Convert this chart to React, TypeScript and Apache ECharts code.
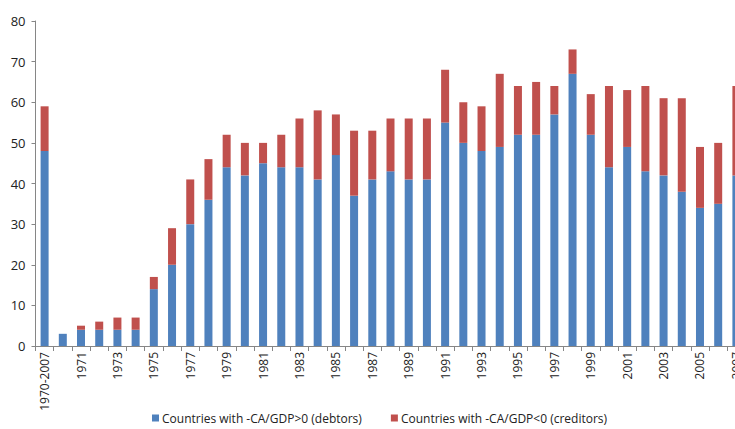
import React, { useEffect, useRef } from "react";
import * as echarts from "echarts";

const categories = [
  "1970-2007", "1970", "1971", "1972", "1973", "1974", "1975", "1976", "1977", "1978",
  "1979", "1980", "1981", "1982", "1983", "1984", "1985", "1986", "1987", "1988",
  "1989", "1990", "1991", "1992", "1993", "1994", "1995", "1996", "1997", "1998",
  "1999", "2000", "2001", "2002", "2003", "2004", "2005", "2006", "2007",
];

const debtors = [
  48, 3, 4, 4, 4, 4, 14, 20, 30, 36,
  44, 42, 45, 44, 44, 41, 47, 37, 41, 43,
  41, 41, 55, 50, 48, 49, 52, 52, 57, 67,
  52, 44, 49, 43, 42, 38, 34, 35, 42,
];

const creditors = [
  11, 0, 1, 2, 3, 3, 3, 9, 11, 10,
  8, 8, 5, 8, 12, 17, 10, 16, 12, 13,
  15, 15, 13, 10, 11, 18, 12, 13, 7, 6,
  10, 20, 14, 21, 19, 23, 15, 15, 22,
];

const yTicks = [0, 10, 20, 30, 40, 50, 60, 70, 80];

const seriesNames = [
  "Countries with -CA/GDP>0 (debtors)",
  "Countries with -CA/GDP<0 (creditors)",
];

export default function App() {
  const ref = useRef<HTMLDivElement>(null);
  useEffect(() => {
    if (!ref.current) return;
    const chart = echarts.init(ref.current, undefined, { renderer: "svg" });
    const font = "'Open Sans', 'Liberation Sans', sans-serif";
    chart.setOption({
      animation: false,
      textStyle: { fontFamily: font },
      grid: { left: 35.5, top: 21, width: 710, height: 325, containLabel: false },
      legend: {
        top: 410,
        left: 147,
        itemWidth: 7,
        itemHeight: 7,
        itemGap: 29,
        padding: [2, 5, 2, 5],
        icon: "rect",
        textStyle: { fontSize: 12, color: "#222", fontFamily: font, padding: [0, 0, 0, -2] },
        data: seriesNames,
      },
      xAxis: {
        type: "category",
        data: categories,
        boundaryGap: true,
        axisLine: { lineStyle: { color: "#868686", width: 1 } },
        axisTick: { show: true, interval: 0, length: 5, lineStyle: { color: "#868686" } },
        axisLabel: {
          interval: 1,
          rotate: 90,
          fontSize: 12,
          color: "#222",
          margin: 6,
          fontFamily: font,
        },
      },
      yAxis: {
        type: "value",
        min: yTicks[0],
        max: yTicks[yTicks.length - 1],
        interval: 10,
        splitLine: { show: false },
        axisLine: { show: true, lineStyle: { color: "#868686", width: 1 } },
        axisTick: { show: true, length: 4, lineStyle: { color: "#868686" } },
        axisLabel: { fontSize: 13, color: "#222", margin: 10, fontFamily: font },
      },
      series: [
        {
          name: seriesNames[0],
          type: "bar",
          stack: "total",
          data: debtors,
          barWidth: 8,
          itemStyle: { color: "#4F81BD" },
        },
        {
          name: seriesNames[1],
          type: "bar",
          stack: "total",
          data: creditors,
          barWidth: 8,
          itemStyle: { color: "#C0504D" },
        },
      ],
    });
    return () => chart.dispose();
  }, []);
  return (
    <div
      style={{
        position: "fixed",
        left: 0,
        top: 0,
        width: 735,
        height: 429,
        overflow: "hidden",
        background: "#fff",
      }}
    >
      <div ref={ref} style={{ width: 760, height: 429 }} />
    </div>
  );
}
